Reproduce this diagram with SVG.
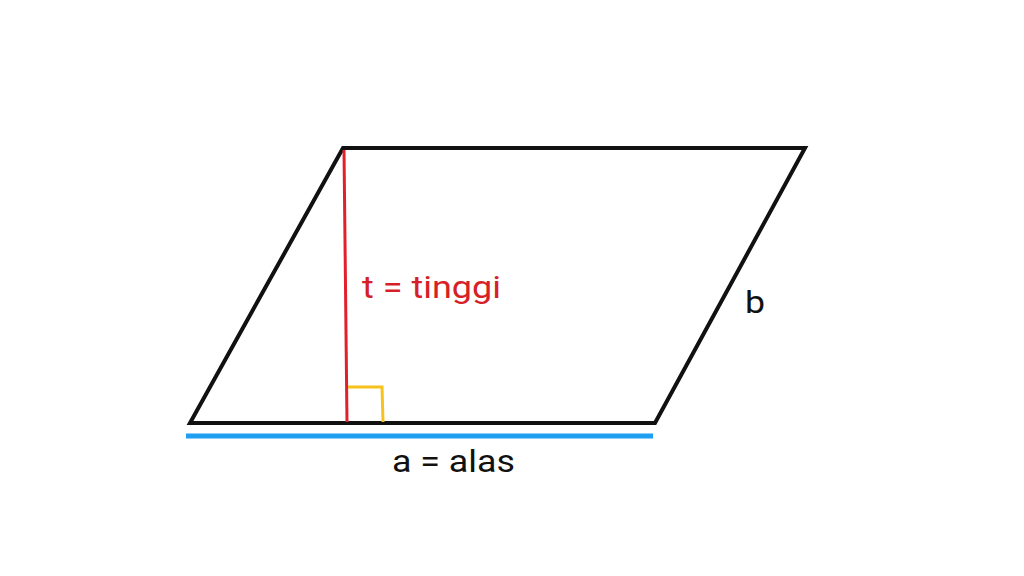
<svg xmlns="http://www.w3.org/2000/svg" width="1024" height="576" viewBox="0 0 1024 576">
<style>
text{font-family:"Roboto","Liberation Sans",sans-serif;font-size:31px}
</style>
<rect width="1024" height="576" fill="#fff"/>
<g id="parallelogram">
<polygon points="343,148 805,148 655,423 190,423" fill="none" stroke="#111" stroke-width="4" stroke-linejoin="miter"/>
</g>
<g id="connectors">
<line id="height" x1="344" y1="150" x2="347" y2="422" stroke="#e2202b" stroke-width="3"/>
<polyline id="right-angle" points="348,387 382,387 383,422" fill="none" stroke="#f7c21c" stroke-width="3"/>
<line id="base" x1="186" y1="436" x2="653" y2="436" stroke="#1e9ff2" stroke-width="5"/>
</g>
<g id="labels">
<text x="362" y="298" fill="#d71f28" textLength="139" lengthAdjust="spacingAndGlyphs">t = tinggi</text>
<text x="745" y="313" fill="#111" textLength="20" lengthAdjust="spacingAndGlyphs">b</text>
<text x="392" y="472" fill="#111" textLength="123" lengthAdjust="spacingAndGlyphs">a = alas</text>
</g>
</svg>
